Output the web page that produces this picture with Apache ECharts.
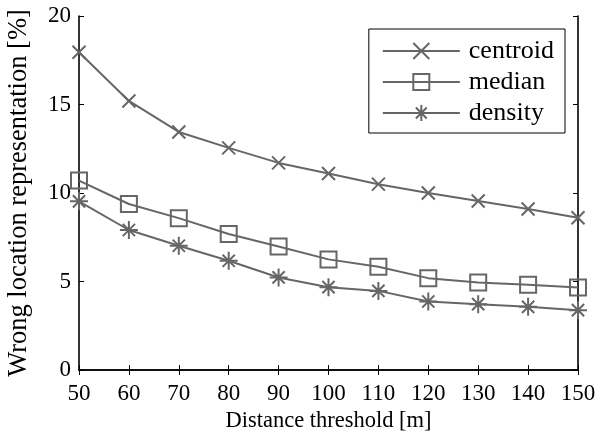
<!DOCTYPE html>
<html>
<head>
<meta charset="utf-8">
<script src="https://cdn.jsdelivr.net/npm/echarts@6/dist/echarts.min.js"></script>
<style>
  html, body { margin: 0; padding: 0; background: #fff; }
  #chart { width: 601px; height: 435px; }
</style>
</head>
<body>
<div id="chart"></div>
<script>
// Distance thresholds (m)
const thresholds = [50, 60, 70, 80, 90, 100, 110, 120, 130, 140, 150];
// Share of wrong location representation (%) per method
const centroid = [17.95, 15.2, 13.45, 12.55, 11.7, 11.1, 10.5, 10.0, 9.55, 9.1, 8.6];
const median   = [10.7, 9.38, 8.58, 7.68, 6.98, 6.25, 5.83, 5.19, 4.94, 4.81, 4.66];
const density  = [9.53, 7.91, 7.02, 6.17, 5.23, 4.68, 4.47, 3.87, 3.72, 3.57, 3.38];
const yTicks = [0, 5, 10, 15, 20];

const GREY = '#666666';
const FONT = '"Liberation Serif", "DejaVu Serif", serif';

const crossPath = 'path://M0,0L10,10M10,0L0,10';
const starPath = 'path://M5,0L5,10M0,5L10,5M1.6,1.6L8.4,8.4M8.4,1.6L1.6,8.4';

function pairs(vals) {
  return thresholds.map((t, i) => [t, vals[i]]);
}

function lineSeries(name, vals, symbol, size) {
  return {
    name: name,
    type: 'line',
    data: pairs(vals),
    symbol: symbol,
    symbolSize: size,
    showAllSymbol: true,
    lineStyle: { color: GREY, width: 2 },
    itemStyle: { color: 'rgba(255,255,255,0)', borderColor: GREY, borderWidth: 2 },
    emphasis: { disabled: true },
    animation: false,
    z: 3
  };
}

const chart = echarts.init(document.getElementById('chart'), null, { renderer: 'canvas' });

const axisCommon = {
  axisLine: { show: true, lineStyle: { color: '#000', width: 1.6 } },
  axisTick: { show: true, inside: true, length: 5, lineStyle: { color: '#000', width: 1 } },
  splitLine: { show: false },
  axisLabel: { color: '#000', fontFamily: FONT, fontSize: 23 },
  nameTextStyle: { color: '#000', fontFamily: FONT, fontSize: 22.5 }
};

chart.setOption({
  backgroundColor: '#fff',
  animation: false,
  grid: { left: 79, right: 23, top: 16, bottom: 65, containLabel: false, outerBoundsMode: 'none' },
  legend: {
    right: 36,
    top: 29,
    orient: 'vertical',
    backgroundColor: '#fff',
    borderColor: '#000',
    borderWidth: 1,
    padding: [9, 11, 7, 13],
    itemGap: 5,
    itemWidth: 77,
    itemHeight: 20,
    textStyle: { color: '#000', fontFamily: FONT, fontSize: 26, padding: [0, 0, 0, 4] },
    data: ['centroid', 'median', 'density']
  },
  xAxis: [
    Object.assign({}, axisCommon, {
      type: 'value', min: 50, max: 150, interval: 10,
      name: 'Distance threshold [m]', nameLocation: 'middle', nameGap: 38,
      axisLabel: Object.assign({}, axisCommon.axisLabel, { margin: 12 })
    }),
    Object.assign({}, axisCommon, {
      type: 'value', min: 50, max: 150, interval: 10, position: 'top',
      axisLabel: { show: false }
    })
  ],
  yAxis: [
    Object.assign({}, axisCommon, {
      type: 'value', min: yTicks[0], max: yTicks[yTicks.length - 1], interval: 5,
      name: 'Wrong location representation [%]', nameLocation: 'middle', nameGap: 46,
      nameTextStyle: Object.assign({}, axisCommon.nameTextStyle, { fontSize: 26.5 }),
      axisLabel: Object.assign({}, axisCommon.axisLabel, { margin: 8 })
    }),
    Object.assign({}, axisCommon, {
      type: 'value', min: 0, max: 20, interval: 5, position: 'right',
      axisLabel: { show: false }
    })
  ],
  series: [
    lineSeries('centroid', centroid, crossPath, 13),
    lineSeries('median', median, 'rect', 16),
    lineSeries('density', density, starPath, 18)
  ]
});
</script>
</body>
</html>
